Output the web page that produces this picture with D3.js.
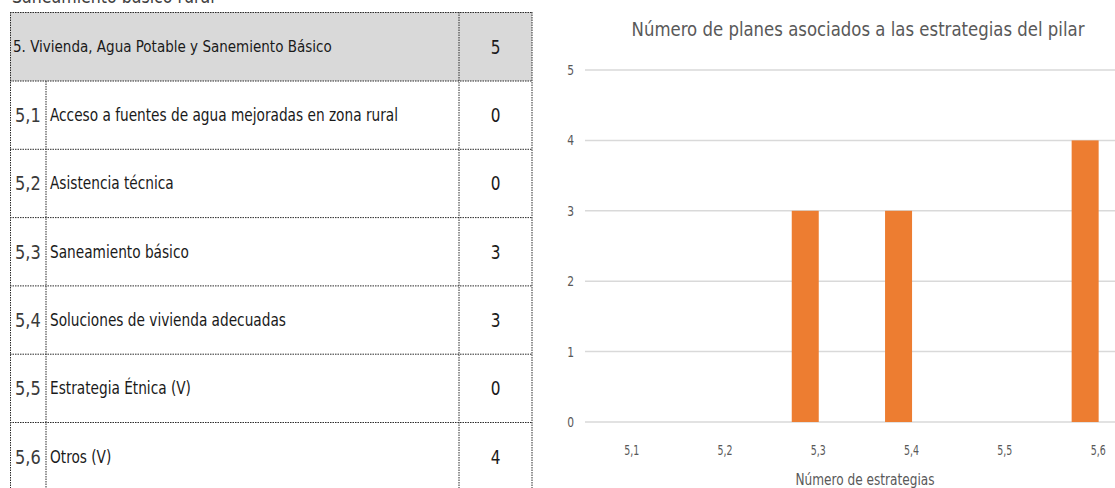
<!DOCTYPE html>
<html><head><meta charset="utf-8">
<script src="https://cdn.jsdelivr.net/npm/d3@7"></script>
<style>
html,body{margin:0;padding:0;background:#fff;}
svg{display:block;}
text{font-family:"DejaVu Sans Condensed","Liberation Sans Narrow",sans-serif;}
</style></head>
<body>
<svg id="c" width="1115" height="488"></svg>
<script>
// ---- data ----
const pillarTitle = "5. Vivienda, Agua Potable y Sanemiento Básico";
const pillarTotal = 5;
const categories = ["5,1","5,2","5,3","5,4","5,5","5,6"];
const strategyNames = ["Acceso a fuentes de agua mejoradas en zona rural","Asistencia técnica","Saneamiento básico","Soluciones de vivienda adecuadas","Estrategia Étnica (V)","Otros (V)"];
const values = [0,0,3,3,0,4];
const yTicks = [0,1,2,3,4,5];
const chartTitle = "Número de planes asociados a las estrategias del pilar";
const xTitle = "Número de estrategias";
const cutHeading = "Saneamiento básico rural";

const svg = d3.select("#c");

// narrow the fallback font to mimic the condensed original face
function condense(sel, k) {
  sel.each(function () {
    const t = d3.select(this);
    const x = +t.attr("x") || 0, y = +t.attr("y") || 0;
    t.attr("x", 0).attr("y", 0).attr("transform", `translate(${x},${y}) scale(${k},1)`);
  });
  return sel;
}

// ---- table ----
const tLeft = 10, tRight = 532, tTop = 12, headBottom = 81, colCode = 46, colNum = 459;
const rowH = 68.3;
const rowY = d3.scaleLinear().domain([0, 1]).range([headBottom, headBottom + rowH]);
const dotted = "1.5,1";
const lineCol = "#2b2b2b";

condense(svg.append("text").attr("x", 12).attr("y", 2.5).attr("font-size", 20).attr("fill", "#404040").text(cutHeading), 0.88);

svg.append("rect").attr("x", tLeft).attr("y", tTop).attr("width", tRight - tLeft).attr("height", headBottom - tTop).attr("fill", "#d9d9d9");

const g = svg.append("g").attr("stroke", lineCol).attr("stroke-width", 1).attr("stroke-dasharray", dotted).attr("fill", "none");
const hl = (x1, x2, y) => g.append("line").attr("x1", x1).attr("x2", x2).attr("y1", y).attr("y2", y);
const vl = (x, y1, y2) => g.append("line").attr("x1", x).attr("x2", x).attr("y1", y1).attr("y2", y2);
hl(tLeft, tRight, tTop + 0.5);
hl(tLeft, tRight, headBottom);
categories.forEach((c, i) => hl(tLeft, tRight, rowY(i + 1)));
vl(tLeft + 0.5, tTop, 488);
vl(tRight, tTop, 488);
vl(colNum, tTop, 488);
vl(colCode, headBottom, 488);

condense(svg.append("text").attr("x", 13).attr("y", (tTop + headBottom) / 2 + 5.5).attr("font-size", 16.5).attr("fill", "#1a1a1a").text(pillarTitle), 0.91);
condense(svg.append("text").attr("x", (colNum + tRight) / 2).attr("y", (tTop + headBottom) / 2 + 7).attr("text-anchor", "middle").attr("font-size", 20).attr("fill", "#1a1a1a").text(pillarTotal), 0.85);

categories.forEach((c, i) => {
  const cy = (rowY(i) + rowY(i + 1)) / 2;
  condense(svg.append("text").attr("x", 15).attr("y", cy + 7).attr("font-size", 20).attr("fill", "#3a3a3a").text(c), 0.9);
  condense(svg.append("text").attr("x", 50).attr("y", cy + 6).attr("font-size", 17.5).attr("fill", "#1a1a1a").text(strategyNames[i]), 0.87);
  condense(svg.append("text").attr("x", (colNum + tRight) / 2).attr("y", cy + 7).attr("text-anchor", "middle").attr("font-size", 20).attr("fill", "#1a1a1a").text(values[i]), 0.85);
});

// ---- chart ----
const step = 93.3, x0 = 585;
const labelX = d3.scalePoint().domain(categories).range([x0, x0 + step * categories.length]).padding(0.5);
const y = d3.scaleLinear().domain([0, 5]).range([422, 70]);
const txt = "#595959";

svg.append("g").selectAll("line").data(yTicks).join("line")
  .attr("x1", x0).attr("x2", 1115).attr("y1", d => y(d)).attr("y2", d => y(d))
  .attr("stroke", "#d9d9d9").attr("stroke-width", 1.5);

condense(svg.append("g").selectAll("text").data(yTicks).join("text")
  .attr("x", 574).attr("y", d => y(d) + 5).attr("text-anchor", "end")
  .attr("font-size", 14).attr("fill", txt).text(d => d), 0.85);

svg.append("g").selectAll("rect").data(categories).join("rect")
  .attr("x", (d) => labelX(d) - 13 - 13.5).attr("width", 27)
  .attr("y", (d, i) => y(values[i])).attr("height", (d, i) => y(0) - y(values[i]))
  .attr("fill", "#ed7d31");

condense(svg.append("g").selectAll("text").data(categories).join("text")
  .attr("x", d => labelX(d)).attr("y", 455).attr("text-anchor", "middle")
  .attr("font-size", 14).attr("fill", txt).text(d => d), 0.75);

condense(svg.append("text").attr("x", 865).attr("y", 485).attr("text-anchor", "middle")
  .attr("font-size", 15).attr("fill", txt).text(xTitle), 0.9);

condense(svg.append("text").attr("x", 858).attr("y", 36).attr("text-anchor", "middle")
  .attr("font-size", 20).attr("fill", txt).text(chartTitle), 0.92);
</script>
</body></html>
